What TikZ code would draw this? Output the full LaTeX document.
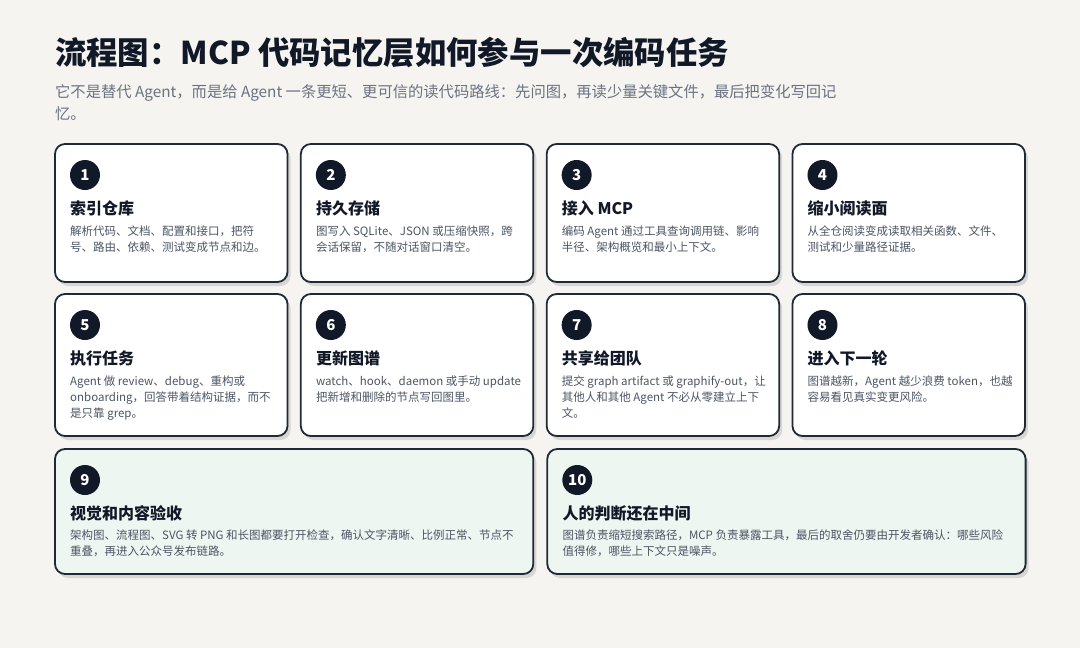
\documentclass[tikz,border=0pt]{standalone}
\usepackage{fontspec}
\setmainfont{Noto Sans CJK SC}
\usepackage{xcolor}
\usepackage{tikz}
\usetikzlibrary{positioning,calc,shadows}
\definecolor{pagebg}{HTML}{F5F4F0}
\definecolor{ink}{HTML}{111827}
\definecolor{edge}{HTML}{1F2937}
\definecolor{muted}{HTML}{6B7280}
\definecolor{bodytext}{HTML}{4B5563}
\definecolor{mint}{HTML}{EEF6F1}

\begin{document}
\begin{tikzpicture}[x=1pt,y=-1pt,node distance=12pt and 13.33pt,card/.style={draw=edge,line width=1.8pt,rounded corners=10pt,fill=white,minimum width=232.5pt,outer sep=0pt,inner sep=0pt,drop shadow={shadow xshift=3pt,shadow yshift=-4pt,fill=black,opacity=0.12}},wide/.style={card,fill=mint,minimum width=478.3pt,minimum height=125pt},num/.style={circle,fill=ink,minimum size=30pt,inner sep=0pt,text=white,font=\fontsize{15}{15}\selectfont\bfseries},head/.style={anchor=base west,inner sep=0pt,text=ink,font=\fontsize{16}{16}\selectfont\bfseries},body/.style={anchor=base west,inner sep=0pt,align=left,text=bodytext,font=\fontsize{11.5}{16}\selectfont}]
\fill[pagebg] (0,0) rectangle (1080,648);
\useasboundingbox (0,0) rectangle (1080,648);

% title and lead (base = last line)
\node[anchor=base west,inner sep=0pt,text=ink,font=\fontsize{31.4}{32}\selectfont\bfseries] (title) at (55,64) {流程图：MCP 代码记忆层如何参与一次编码任务};
\node[anchor=base west,inner sep=0pt,align=left,text=muted,font=\fontsize{15.3}{22}\selectfont] (lead) at (55,119.5) {它不是替代 Agent，而是给 Agent 一条更短、更可信的读代码路线：先问图，再读少量关键文件，最后把变化写回记\\忆。};

% row 1
\node[card,minimum height=138pt] (c1) at (171.25,213) {};
\node[card,minimum height=138pt,right=of c1] (c2) {};
\node[card,minimum height=138pt,right=of c2] (c3) {};
\node[card,minimum height=138pt,right=of c3] (c4) {};
% row 2
\node[card,minimum height=142pt,below=of c1] (c5) {};
\node[card,minimum height=142pt,right=of c5] (c6) {};
\node[card,minimum height=142pt,right=of c6] (c7) {};
\node[card,minimum height=142pt,right=of c7] (c8) {};
% row 3
\node[wide,below=13pt of c5.south west,anchor=north west] (c9) {};
\node[wide,right=14pt of c9] (c10) {};

\node[num] (n1) at ($(c1.north west)+(30,31)$) {1};
\node[head] (h1) at ($(c1.north west)+(15,70)$) {索引仓库};
\node[body] (b1) at ($(c1.north west)+(15,107)$) {解析代码、文档、配置和接口，把符\\号、路由、依赖、测试变成节点和边。};

\node[num] (n2) at ($(c2.north west)+(30,31)$) {2};
\node[head] (h2) at ($(c2.north west)+(15,70)$) {持久存储};
\node[body] (b2) at ($(c2.north west)+(15,107)$) {图写入 SQLite、JSON 或压缩快照，跨\\会话保留，不随对话窗口清空。};

\node[num] (n3) at ($(c3.north west)+(30,31)$) {3};
\node[head] (h3) at ($(c3.north west)+(15,70)$) {接入 MCP};
\node[body] (b3) at ($(c3.north west)+(15,107)$) {编码 Agent 通过工具查询调用链、影响\\半径、架构概览和最小上下文。};

\node[num] (n4) at ($(c4.north west)+(30,31)$) {4};
\node[head] (h4) at ($(c4.north west)+(15,70)$) {缩小阅读面};
\node[body] (b4) at ($(c4.north west)+(15,107)$) {从全仓阅读变成读取相关函数、文件、\\测试和少量路径证据。};

\node[num] (n5) at ($(c5.north west)+(30,31)$) {5};
\node[head] (h5) at ($(c5.north west)+(15,70)$) {执行任务};
\node[body] (b5) at ($(c5.north west)+(15,123)$) {Agent 做 review、debug、重构或\\onboarding，回答带着结构证据，而不\\是只靠 grep。};

\node[num] (n6) at ($(c6.north west)+(30,31)$) {6};
\node[head] (h6) at ($(c6.north west)+(15,70)$) {更新图谱};
\node[body] (b6) at ($(c6.north west)+(15,107)$) {watch、hook、daemon 或手动 update\\把新增和删除的节点写回图里。};

\node[num] (n7) at ($(c7.north west)+(30,31)$) {7};
\node[head] (h7) at ($(c7.north west)+(15,70)$) {共享给团队};
\node[body] (b7) at ($(c7.north west)+(15,123)$) {提交 graph artifact 或 graphify-out，让\\其他人和其他 Agent 不必从零建立上下\\文。};

\node[num] (n8) at ($(c8.north west)+(30,31)$) {8};
\node[head] (h8) at ($(c8.north west)+(15,70)$) {进入下一轮};
\node[body] (b8) at ($(c8.north west)+(15,107)$) {图谱越新，Agent 越少浪费 token，也越\\容易看见真实变更风险。};

\node[num] (n9) at ($(c9.north west)+(30,31)$) {9};
\node[head] (h9) at ($(c9.north west)+(15,70)$) {视觉和内容验收};
\node[body] (b9) at ($(c9.north west)+(15,106)$) {架构图、流程图、SVG 转 PNG 和长图都要打开检查，确认文字清晰、比例正常、节点不\\重叠，再进入公众号发布链路。};

\node[num] (n10) at ($(c10.north west)+(30,31)$) {10};
\node[head] (h10) at ($(c10.north west)+(15,70)$) {人的判断还在中间};
\node[body] (b10) at ($(c10.north west)+(15,106)$) {图谱负责缩短搜索路径，MCP 负责暴露工具，最后的取舍仍要由开发者确认：哪些风险\\值得修，哪些上下文只是噪声。};
\end{tikzpicture}
\end{document}
